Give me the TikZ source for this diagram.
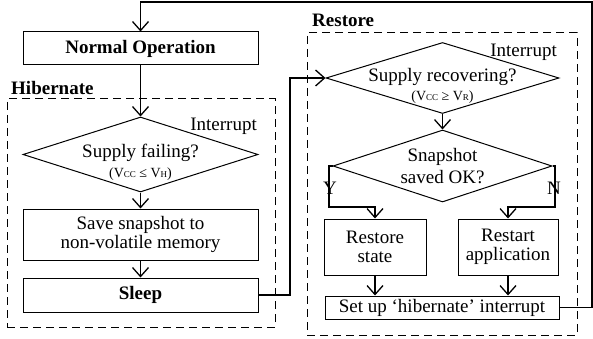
\documentclass[tikz,border=0pt]{standalone}
\usepackage{fontspec}
\setmainfont{Liberation Serif}
\usetikzlibrary{shapes.geometric,arrows.meta}
\newcommand{\subtxt}[1]{{\fontsize{9pt}{9pt}\selectfont #1}}
\begin{document}
\begin{tikzpicture}[x=1pt,y=-1pt,
  font=\fontsize{19pt}{21pt}\selectfont,
  box/.style={draw, line width=1pt, inner sep=0pt, align=center},
  dia/.style={draw, line width=1pt, diamond, inner sep=0pt},
  grp/.style={draw, line width=1pt, dash pattern=on 8pt off 5pt},
  conn/.style={line width=1.2pt, -{Straight Barb[length=9pt,width=16pt,line width=1.3pt]}},
  lbl/.style={inner sep=0pt, anchor=base},
  small/.style={inner sep=0pt, font=\fontsize{14pt}{14pt}\selectfont}]
\useasboundingbox (0,0) rectangle (593,339);
% group boxes
\node[grp, minimum width=268pt, minimum height=228pt, inner sep=0pt] (hib) at (141,213) {};
\node[grp, minimum width=270pt, minimum height=302pt, inner sep=0pt] (res) at (442,184) {};
\node[lbl, anchor=base west, font=\fontsize{19pt}{21pt}\selectfont\bfseries] (hibl) at (11,95) {Hibernate};
\node[lbl, anchor=base west, font=\fontsize{19pt}{21pt}\selectfont\bfseries] (resl) at (312,27) {Restore};
% boxes
\node[box, minimum width=235pt, minimum height=33pt] (normal) at (140.5,48.5) {\bfseries Normal Operation};
\node[dia, minimum width=235pt, minimum height=75pt] (d1) at (140.5,154.5) {};
\node[inner sep=0pt] (d1t) at (140.5,153) {Supply failing?};
\node[small] (d1s) at (140.5,174) {(V\subtxt{CC} ≤ V\subtxt{H})};
\node[lbl, anchor=base east] (int1) at (257,131) {Interrupt};
\node[box, minimum width=235pt, minimum height=51pt] (save) at (140.5,234.5) {Save snapshot to\\[-2pt]non-volatile memory};
\node[box, minimum width=235pt, minimum height=34pt] (sleep) at (140.5,295) {\bfseries Sleep};
\node[dia, minimum width=233pt, minimum height=71pt] (d2) at (442.5,78) {};
\node[inner sep=0pt] (d2t) at (442.5,77) {Supply recovering?};
\node[small] (d2s) at (442.5,97) {(V\subtxt{CC} ≥ V\subtxt{R})};
\node[lbl, anchor=base east] (int2) at (557,57) {Interrupt};
\node[dia, minimum width=219pt, minimum height=72pt] (d3) at (442.5,166) {};
\node[inner sep=0pt] (d3t) at (442.5,157) {Snapshot};
\node[inner sep=0pt] (d3u) at (442.5,177) {saved OK?};
\node[lbl] (yl) at (330,194) {Y};
\node[lbl] (nl) at (554,194) {N};
\node[box, minimum width=102pt, minimum height=56pt] (rst) at (375,247) {Restore\\[-2pt]state};
\node[box, minimum width=100pt, minimum height=56pt] (rsa) at (508,247) {Restart\\[-2pt]application};
\node[box, minimum width=234pt, minimum height=23pt] (setup) at (442,307.5) {Set up ‘hibernate’ interrupt};
% connectors
\coordinate (top1) at (592,2);
\coordinate (top2) at (140.5,2);
\coordinate (mid1) at (290,295);
\coordinate (mid2) at (290,78);
\coordinate (yl1) at (329,166);
\coordinate (yl2) at (329,207);
\coordinate (nl1) at (555,166);
\coordinate (nl2) at (555,207);
\draw[conn] (normal.south) -- (d1.north);
\draw[conn] (d1.south) -- (save.north);
\draw[conn] (save.south) -- (sleep.north);
\draw[conn] (sleep.east) -- (mid1) -- (mid2) -- (d2.west);
\draw[conn] (d2.south) -- (d3.north);
\draw[conn] (d3.west) -- (yl1) -- (yl2) -| (rst.north);
\draw[conn] (d3.east) -- (nl1) -- (nl2) -| (rsa.north);
\draw[conn] (rst.south) -- (rst.south |- setup.north);
\draw[conn] (rsa.south) -- (rsa.south |- setup.north);
\draw[conn] (setup.east) -| (top1) -- (top2) -- (normal.north);
\end{tikzpicture}
\end{document}
